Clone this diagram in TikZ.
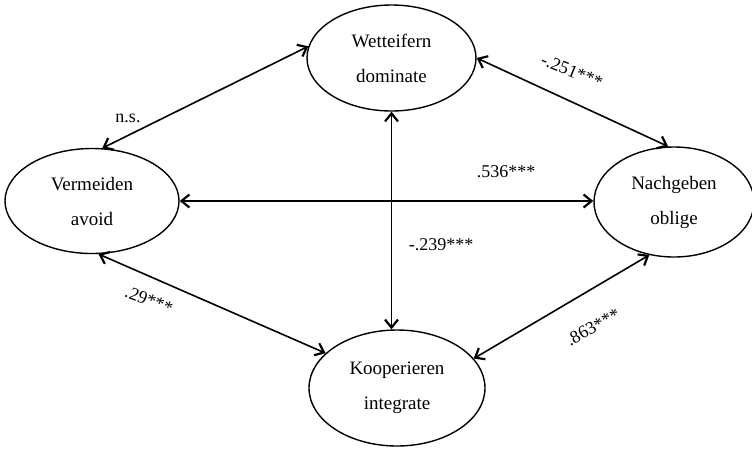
\documentclass[tikz,border=0pt]{standalone}
\usepackage{fontspec}
\setmainfont{Liberation Serif}
\usetikzlibrary{shapes.geometric,arrows.meta}
\begin{document}
\begin{tikzpicture}[x=1pt,y=-1pt,
  construct/.style={draw, ellipse, line width=1.4pt, inner sep=0pt, align=center,
    font=\fontsize{19}{35}\selectfont},
  barb/.tip={Straight Barb[length=8pt,width=13pt,line width=2.2pt]},
  rel/.style={line width=1.6pt, barb-barb},
  coef/.style={inner sep=0pt, font=\fontsize{18}{20}\selectfont}]
\useasboundingbox (0,0) rectangle (752,448);
\node[construct, minimum width=169pt, minimum height=106pt] (W) at (391.5,58) {Wetteifern\\dominate};
\node[construct, minimum width=174pt, minimum height=105pt] (V) at (92,201) {Vermeiden\\avoid};
\node[construct, minimum width=160pt, minimum height=110pt] (N) at (674,202) {Nachgeben\\oblige};
\node[construct, minimum width=176pt, minimum height=116pt] (K) at (397,388) {Kooperieren\\integrate};

\draw[rel] (W.172.4) -- (V.79);
\draw[rel] (W.0) -- (N.96.7);
\draw[rel] (V.east) -- (V.east -| N.west);
\draw[rel] (W.south) -- (W.south |- K.north);
\draw[rel] (V.277.7) -- (K.154.4);
\draw[rel] (K.21.2) -- (N.245.9);

\node[coef] (l1) at (128,118) {n.s.};
\node[coef, rotate=-22] (l2) at (572,71) {-.251***};
\node[coef] (l3) at (506,172) {.536***};
\node[coef] (l4) at (441,245) {-.239***};
\node[coef, rotate=-21] (l5) at (149,300) {.29***};
\node[coef, rotate=29] (l6) at (593,327) {.863***};
\end{tikzpicture}
\end{document}
